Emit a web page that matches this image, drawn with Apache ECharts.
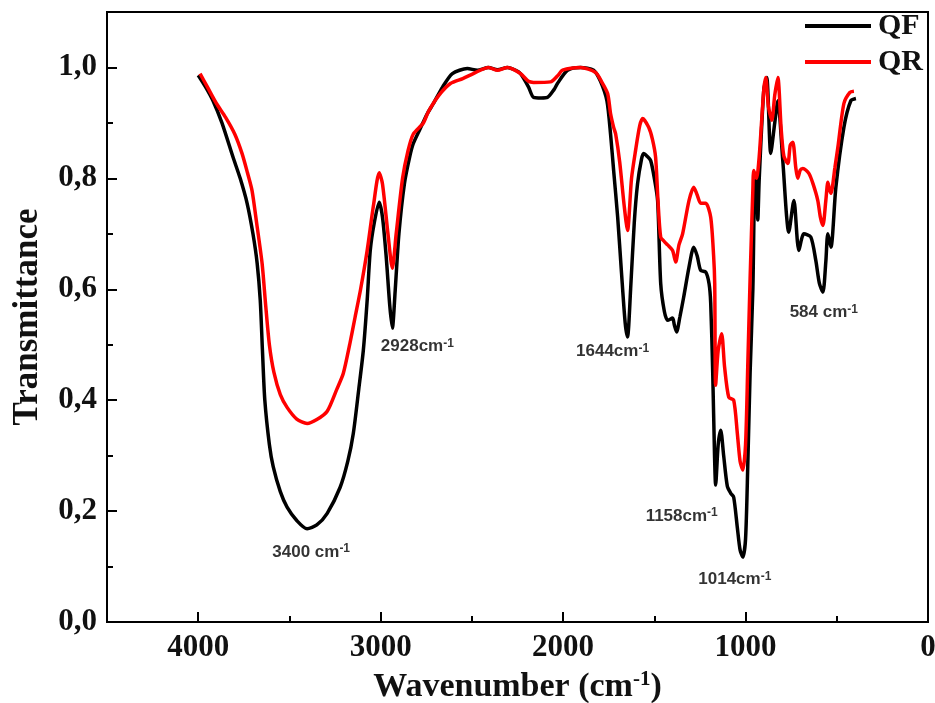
<!DOCTYPE html>
<html>
<head>
<meta charset="utf-8">
<script src="https://cdn.jsdelivr.net/npm/echarts@6/dist/echarts.min.js"></script>
<style>
  html, body { margin: 0; padding: 0; background: #fff; }
  #chart { width: 935px; height: 703px; }
</style>
</head>
<body>
<div id="chart"></div>
<script>
// FTIR spectra: wavenumber (cm-1) and transmittance for the two samples
const qfWavenumber = [4000, 3960, 3919, 3870, 3809, 3770, 3732, 3700, 3677, 3660, 3648, 3635, 3610, 3589, 3550, 3513, 3460, 3403, 3350, 3293, 3222, 3180, 3150, 3120, 3095, 3074, 3057, 3035, 3008, 2990, 2970, 2950, 2936, 2920, 2900, 2870, 2840, 2821, 2783, 2744, 2711, 2660, 2607, 2525, 2470, 2409, 2360, 2305, 2260, 2234, 2190, 2162, 2120, 2086, 2050, 2031, 1976, 1904, 1833, 1795, 1760, 1740, 1723, 1701, 1680, 1660, 1647, 1630, 1610, 1592, 1570, 1559, 1540, 1520, 1500, 1482, 1465, 1445, 1427, 1400, 1390, 1378, 1360, 1339, 1310, 1284, 1265, 1246, 1218, 1200, 1191, 1180, 1170, 1164, 1150, 1136, 1120, 1100, 1081, 1065, 1045, 1030, 1015, 1000, 988, 975, 960, 950, 940, 933, 925, 900, 884, 862, 840, 823, 796, 763, 735, 708, 680, 642, 615, 595, 576, 560, 549, 532, 505, 461, 423, 395];
const qfTransmittance = [0.986, 0.965, 0.94, 0.90, 0.838, 0.80, 0.755, 0.70, 0.647, 0.58, 0.49, 0.40, 0.32, 0.28, 0.235, 0.207, 0.183, 0.168, 0.175, 0.196, 0.243, 0.29, 0.34, 0.42, 0.49, 0.58, 0.67, 0.72, 0.757, 0.73, 0.66, 0.57, 0.53, 0.60, 0.70, 0.79, 0.84, 0.863, 0.89, 0.917, 0.935, 0.965, 0.989, 0.998, 0.995, 1.0, 0.996, 1.0, 0.995, 0.989, 0.965, 0.946, 0.945, 0.946, 0.96, 0.971, 0.995, 1.0, 0.995, 0.975, 0.94, 0.88, 0.814, 0.73, 0.63, 0.54, 0.514, 0.60, 0.72, 0.79, 0.835, 0.845, 0.84, 0.832, 0.80, 0.76, 0.61, 0.56, 0.544, 0.548, 0.535, 0.523, 0.55, 0.586, 0.64, 0.676, 0.66, 0.634, 0.631, 0.61, 0.575, 0.45, 0.30, 0.247, 0.32, 0.346, 0.30, 0.245, 0.232, 0.225, 0.17, 0.13, 0.117, 0.15, 0.28, 0.45, 0.60, 0.79, 0.80, 0.725, 0.80, 0.96, 0.982, 0.845, 0.90, 0.94, 0.832, 0.703, 0.76, 0.67, 0.70, 0.694, 0.652, 0.61, 0.595, 0.65, 0.70, 0.676, 0.784, 0.892, 0.94, 0.944];

const qrWavenumber = [3990, 3950, 3900, 3850, 3800, 3760, 3730, 3705, 3680, 3650, 3630, 3610, 3585, 3550, 3513, 3460, 3403, 3350, 3293, 3240, 3205, 3170, 3140, 3110, 3074, 3040, 3008, 2990, 2960, 2936, 2915, 2880, 2850, 2821, 2766, 2739, 2680, 2618, 2550, 2492, 2409, 2360, 2305, 2234, 2190, 2162, 2069, 2030, 2003, 1904, 1822, 1790, 1756, 1740, 1723, 1712, 1690, 1665, 1647, 1625, 1603, 1580, 1564, 1531, 1510, 1493, 1480, 1465, 1445, 1427, 1400, 1383, 1365, 1345, 1310, 1284, 1265, 1246, 1218, 1191, 1175, 1169, 1164, 1150, 1131, 1115, 1092, 1065, 1045, 1030, 1015, 1000, 988, 975, 960, 955, 940, 925, 900, 889, 875, 856, 840, 823, 805, 790, 768, 755, 741, 725, 714, 700, 686, 653, 630, 604, 590, 576, 560, 549, 540, 532, 510, 494, 461, 428, 406];
const qrTransmittance = [0.989, 0.965, 0.935, 0.91, 0.88, 0.845, 0.81, 0.778, 0.72, 0.647, 0.57, 0.50, 0.45, 0.41, 0.387, 0.366, 0.358, 0.365, 0.38, 0.42, 0.448, 0.50, 0.55, 0.60, 0.67, 0.75, 0.81, 0.79, 0.70, 0.638, 0.70, 0.80, 0.85, 0.88, 0.90, 0.92, 0.95, 0.971, 0.98, 0.989, 1.0, 0.995, 1.0, 0.989, 0.975, 0.973, 0.974, 0.985, 0.995, 1.0, 0.991, 0.975, 0.953, 0.917, 0.892, 0.88, 0.83, 0.75, 0.706, 0.80, 0.85, 0.895, 0.908, 0.892, 0.87, 0.838, 0.76, 0.694, 0.686, 0.68, 0.67, 0.649, 0.68, 0.70, 0.76, 0.784, 0.77, 0.755, 0.755, 0.73, 0.66, 0.61, 0.427, 0.49, 0.52, 0.46, 0.405, 0.40, 0.34, 0.29, 0.274, 0.32, 0.46, 0.62, 0.78, 0.814, 0.80, 0.84, 0.96, 0.982, 0.93, 0.905, 0.95, 0.982, 0.89, 0.84, 0.827, 0.86, 0.865, 0.82, 0.80, 0.815, 0.818, 0.809, 0.79, 0.76, 0.73, 0.715, 0.76, 0.793, 0.78, 0.773, 0.82, 0.856, 0.935, 0.955, 0.957];

const seriesNames = ['QF', 'QR'];
const xTickValues = [0, 1000, 2000, 3000, 4000];
const peakBands = ['3400', '2928', '1644', '1158', '1014', '584'];

const SERIF = "'Liberation Serif', 'Times New Roman', serif";
const SANS = "'Liberation Sans', Arial, sans-serif";

function pairs(xs, ys) {
  return xs.map((x, i) => [x, ys[i]]);
}

// Where each band label sits (data coordinates) and whether a space precedes "cm"
const peakLabelPlacement = {
  '3400': { at: [3381, 0.126], space: true },
  '2928': { at: [2799, 0.497], space: false },
  '1644': { at: [1729, 0.488], space: false },
  '1158': { at: [1350, 0.191], space: false },
  '1014': { at: [1059, 0.077], space: false },
  '584':  { at: [571, 0.558], space: true }
};

const peakData = peakBands.map(b => ({
  value: peakLabelPlacement[b].at,
  band: b,
  space: peakLabelPlacement[b].space
}));

const chart = echarts.init(document.getElementById('chart'), null, { renderer: 'canvas' });

const plotBox = { left: 107, right: 7, top: 12, bottom: 81, outerBoundsMode: 'none', containLabel: false };
const tickLine = { color: '#000', width: 2 };

const option = {
  backgroundColor: '#ffffff',
  animation: false,
  grid: [
    Object.assign({ show: true, borderColor: '#000', borderWidth: 2, backgroundColor: 'transparent' }, plotBox),
    // second grid on the same box, carrying only the short minor ticks
    Object.assign({ show: false }, plotBox)
  ],
  legend: {
    data: seriesNames,
    orient: 'vertical',
    right: 12,
    top: 11,
    padding: 0,
    itemGap: 6,
    icon: 'rect',
    itemWidth: 66,
    itemHeight: 4,
    textStyle: { fontFamily: SERIF, fontWeight: 'bold', fontSize: 30, color: '#111', padding: [0, 0, 0, 2] }
  },
  xAxis: [
    {
      gridIndex: 0,
      type: 'value', min: 0, max: 4500, interval: 1000, inverse: true, position: 'bottom',
      axisLine: { show: true, onZero: false, lineStyle: tickLine },
      axisTick: { show: true, inside: true, length: 10, lineStyle: tickLine },
      axisLabel: {
        show: true, margin: 10, showMaxLabel: false,
        fontFamily: SERIF, fontWeight: 'bold', fontSize: 31, color: '#111',
        formatter: v => (xTickValues.indexOf(v) >= 0 ? String(v) : '')
      },
      splitLine: { show: false },
      name: '{n|Wavenumber (cm}{s|-1}{n|)}',
      nameLocation: 'middle',
      nameGap: 47,
      nameTextStyle: {
        rich: {
          n: { fontFamily: SERIF, fontWeight: 'bold', fontSize: 34, color: '#111', lineHeight: 36 },
          s: { fontFamily: SERIF, fontWeight: 'bold', fontSize: 21, color: '#111', lineHeight: 14, verticalAlign: 'top' }
        }
      }
    },
    {
      gridIndex: 1,
      type: 'value', min: 0, max: 4500, interval: 500, inverse: true, position: 'bottom',
      axisLine: { show: false, onZero: false },
      axisTick: { show: true, inside: true, length: 6, lineStyle: tickLine },
      axisLabel: { show: false },
      splitLine: { show: false }
    }
  ],
  yAxis: [
    {
      gridIndex: 0,
      type: 'value', min: 0, max: 1.1, interval: 0.2, position: 'left',
      axisLine: { show: true, onZero: false, lineStyle: tickLine },
      axisTick: { show: true, inside: true, length: 10, lineStyle: tickLine },
      axisLabel: {
        show: true, margin: 10, showMaxLabel: false,
        fontFamily: SERIF, fontWeight: 'bold', fontSize: 31, color: '#111',
        formatter: v => v.toFixed(1).replace('.', ',')
      },
      splitLine: { show: false },
      name: 'Transmittance',
      nameLocation: 'middle',
      nameGap: 62,
      nameRotate: 90,
      nameTextStyle: { fontFamily: SERIF, fontWeight: 'bold', fontSize: 35, color: '#111' }
    },
    {
      gridIndex: 1,
      type: 'value', min: 0, max: 1.1, interval: 0.1, position: 'left',
      axisLine: { show: false, onZero: false },
      axisTick: { show: true, inside: true, length: 6, lineStyle: tickLine },
      axisLabel: { show: false },
      splitLine: { show: false }
    }
  ],
  series: [
    {
      name: 'QF', type: 'line', xAxisIndex: 0, yAxisIndex: 0,
      data: pairs(qfWavenumber, qfTransmittance),
      showSymbol: false, smooth: 0.25,
      lineStyle: { color: '#000000', width: 3.5 },
      itemStyle: { color: '#000000' },
      z: 2
    },
    {
      name: 'QR', type: 'line', xAxisIndex: 0, yAxisIndex: 0,
      data: pairs(qrWavenumber, qrTransmittance),
      showSymbol: false, smooth: 0.25,
      lineStyle: { color: '#ff0000', width: 3.5 },
      itemStyle: { color: '#ff0000' },
      z: 3
    },
    {
      name: 'bands', type: 'scatter', xAxisIndex: 0, yAxisIndex: 0,
      data: peakData,
      symbolSize: 1,
      itemStyle: { color: 'rgba(0,0,0,0)' },
      silent: true,
      z: 5,
      label: {
        show: true,
        position: 'inside',
        formatter: p => '{n|' + p.data.band + (p.data.space ? ' ' : '') + 'cm}{s|-1}',
        rich: {
          n: { fontFamily: SANS, fontWeight: 'bold', fontSize: 17, color: '#000', lineHeight: 18 },
          s: { fontFamily: SANS, fontWeight: 'bold', fontSize: 12, color: '#000', lineHeight: 4, verticalAlign: 'top' }
        }
      }
    }
  ]
};

chart.setOption(option);
</script>
</body>
</html>
